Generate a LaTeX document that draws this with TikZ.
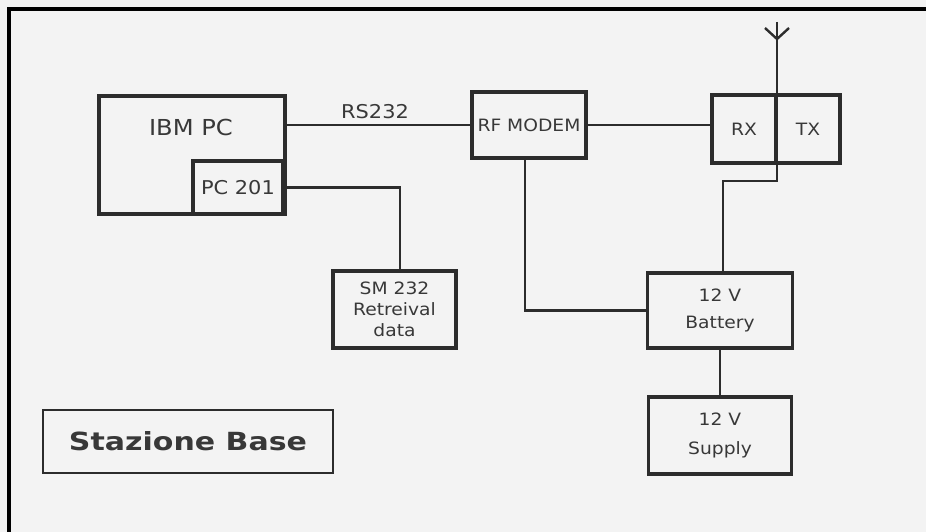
\documentclass[tikz,border=0pt]{standalone}
\usepackage{fontspec}
\setmainfont{DejaVu Sans}
\newfontfamily\widefont[FakeStretch=1.1]{DejaVu Sans}
\newfontfamily\widebold[FakeStretch=1.2]{DejaVu Sans Bold}
\definecolor{ink}{HTML}{2C2C2C}
\definecolor{txt}{HTML}{383838}
\definecolor{paper}{HTML}{F3F3F3}
\begin{document}
\begin{tikzpicture}[x=1pt,y=-1pt,
  blk/.style={draw=ink, line width=3.2pt, inner sep=0pt, align=center, text=txt,
    font=\widefont\fontsize{17}{25}\selectfont},
  lbl/.style={inner sep=0pt, text=txt, font=\widefont\fontsize{17}{25}\selectfont},
  wire/.style={draw=ink, line width=2.8pt}]
\fill[paper] (0,0) rectangle (926,532);
\useasboundingbox (0,0) rectangle (926,532);
% frame
\draw[black, line width=4.5pt] (9,532) -- (9,9) -- (926,9);
% IBM PC
\node[blk, minimum width=186pt, minimum height=118pt] (ibm) at (192,155) {};
\node[lbl, font=\widefont\fontsize{22}{26}\selectfont] (ibmtxt) at (191,127) {IBM PC};
\node[blk, minimum width=90pt, minimum height=53pt, font=\widefont\fontsize{19}{24}\selectfont] (pc) at (238,187.5) {PC 201};
% RF modem
\node[blk, minimum width=114pt, minimum height=66pt] (rf) at (529,125) {RF MODEM};
\node[lbl, font=\widefont\fontsize{19}{24}\selectfont] (rs) at (375,112) {RS232};
% RX TX
\node[blk, minimum width=64pt, minimum height=68pt] (rx) at (744,129) {RX};
\node[blk, minimum width=64pt, minimum height=68pt] (tx) at (808,129) {TX};
% SM 232
\node[blk, minimum width=123pt, minimum height=77pt, font=\widefont\fontsize{17}{21}\selectfont] (sm) at (394.5,309.5) {SM 232\\Retreival\\data};
% Battery / supply
\node[blk, minimum width=145pt, minimum height=75pt, font=\widefont\fontsize{17}{27}\selectfont] (bat) at (720,310.5) {12 V\\Battery};
\node[blk, minimum width=143pt, minimum height=77pt, font=\widefont\fontsize{17}{29}\selectfont] (sup) at (720,435.5) {12 V\\Supply};
% Stazione Base
\node[blk, line width=2.8pt, minimum width=290pt, minimum height=63pt, font=\widebold\fontsize{25}{30}\selectfont] (sb) at (188,441.5) {Stazione Base};
% connectors
\draw[wire] (ibm.east |- rf.west) -- (rf.west);
\draw[wire] (rf.east) -- (rf.east -| rx.west);
\draw[wire] (pc.east) -| ([xshift=5.5pt]sm.north);
\draw[wire] ([xshift=-4pt]rf.south) |- (bat.west);
\draw[wire] (bat.south) -- (sup.north);
% antenna
\coordinate (ant) at (777,22);
\coordinate (antv) at (777,39);
\coordinate (arml) at (765,28);
\coordinate (armr) at (789,28);
\coordinate (bend) at (777,181);
\draw[wire] (ant) -- (bend) -| ([xshift=3pt]bat.north);
\draw[wire, line width=2.4pt] (arml) -- (antv) -- (armr);
\end{tikzpicture}
\end{document}
